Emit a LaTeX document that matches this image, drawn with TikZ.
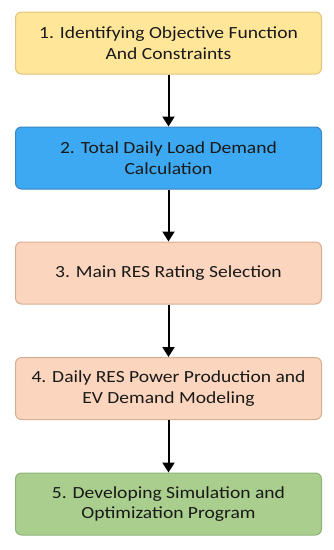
\documentclass[tikz,border=0pt]{standalone}
\usepackage{fontspec}
\setmainfont{Carlito}[FakeStretch=1.15]
\usetikzlibrary{arrows.meta}
\definecolor{f1}{HTML}{FFE699}\definecolor{d1}{HTML}{E3C27A}
\definecolor{f2}{HTML}{3DA9F2}\definecolor{d2}{HTML}{3A86C4}
\definecolor{f3}{HTML}{FBD5BD}\definecolor{d3}{HTML}{D8AE93}
\definecolor{f5}{HTML}{A9CE8D}\definecolor{d5}{HTML}{8FB276}
\begin{document}
\begin{tikzpicture}[x=1pt,y=-1pt,
  stepbox/.style={draw, line width=1pt, rounded corners=6pt, minimum width=306pt, minimum height=62pt,
    align=center, font=\fontsize{17}{20.5}\selectfont, text=black!90, inner sep=0pt},
  conn/.style={-{Triangle[length=10pt,width=12pt]}, line width=2pt, black}]
\useasboundingbox (0,0) rectangle (333,550);
\node[stepbox, fill=f1, draw=d1] (b1) at (168.5,43) {1. Identifying Objective Function\\And Constraints};
\node[stepbox, fill=f2, draw=d2] (b2) at (168.5,158) {2. Total Daily Load Demand\\Calculation};
\node[stepbox, fill=f3, draw=d3] (b3) at (168.5,273) {3. Main RES Rating Selection};
\node[stepbox, fill=f3, draw=d3] (b4) at (168.5,388.5) {4. Daily RES Power Production and\\EV Demand Modeling};
\node[stepbox, fill=f5, draw=d5] (b5) at (168.5,504) {5. Developing Simulation and\\Optimization Program};
\draw[conn] (b1) -- (b2);
\draw[conn] (b2) -- (b3);
\draw[conn] (b3) -- (b4);
\draw[conn] (b4) -- (b5);
\end{tikzpicture}
\end{document}
